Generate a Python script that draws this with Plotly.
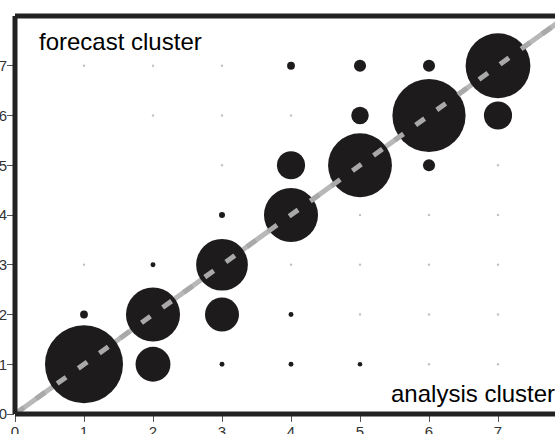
import math
import plotly.graph_objects as go

# analysis cluster (x) and forecast cluster (y)
analysis_clusters = [1, 2, 3, 4, 5, 6, 7]
forecast_clusters = [1, 2, 3, 4, 5, 6, 7]

# relative frequency of (analysis, forecast) pairs; rows = forecast cluster 1..7
# None = no mark drawn
freq = [
    [100, 20, 0.4, 0.4, 0.35, 0.1, 0.1],    # forecast 1
    [1, 48, 19, 0.4, 0.1, 0.1, 0.1],        # forecast 2
    [0.1, 0.4, 44, 0.1, 0.1, 0.1, 0.1],     # forecast 3
    [None, None, 0.6, 48, 0.1, 0.1, 0.1],   # forecast 4
    [None, None, 0.1, 13, 67, 2.4, 0.1],    # forecast 5
    [None, 0.1, 0.1, 0.1, 5, 88, 13],       # forecast 6
    [0.1, 0.1, 0.1, 1, 2.4, 2.4, 69],       # forecast 7
]

tick_vals = [0, 1, 2, 3, 4, 5, 6, 7]
diag = [0, 8]

xs, ys, sizes, colors = [], [], [], []
for j, fc in enumerate(forecast_clusters):
    for i, ac in enumerate(analysis_clusters):
        v = freq[j][i]
        if v is None:
            continue
        xs.append(ac)
        ys.append(fc)
        sizes.append(7.8 * math.sqrt(v))
        colors.append("#1d1b1b" if v >= 0.3 else "#c4c4c4")

fig = go.Figure()
fig.add_trace(go.Scatter(x=diag, y=diag, mode="lines",
                         line=dict(color="#b8b8b8", width=5), hoverinfo="skip"))
fig.add_trace(go.Scatter(x=xs, y=ys, mode="markers",
                         marker=dict(size=sizes, sizemode="diameter", color=colors,
                                     line=dict(width=0), opacity=1)))
fig.add_trace(go.Scatter(x=diag, y=diag, mode="lines",
                         line=dict(color="#a9a9a9", width=5, dash="11px,15px"),
                         hoverinfo="skip"))

L, T, B = 15, 16, 20
W, H = 555, 434
pw = W - L
xmax = pw / 69.0

fig.update_layout(
    width=W, height=H,
    margin=dict(l=L, r=0, t=T, b=B, autoexpand=False),
    paper_bgcolor="white", plot_bgcolor="white",
    showlegend=False,
    font=dict(family="Liberation Sans, Arial, sans-serif", color="#333333", size=15),
    xaxis=dict(range=[0, xmax], tickvals=tick_vals, ticks="outside", ticklen=7,
               tickwidth=1, tickcolor="#555", showgrid=False, zeroline=False,
               showline=False, automargin=False, ticklabelstandoff=-3),
    yaxis=dict(range=[0, 8], tickvals=tick_vals, ticks="outside", ticklen=7,
               tickwidth=1, tickcolor="#555", showgrid=False, zeroline=False,
               showline=False, automargin=False, ticklabelstandoff=-3),
    shapes=[
        dict(type="line", xref="paper", yref="paper", x0=0, x1=0, y0=0, y1=1,
             line=dict(color="#222", width=5), layer="above"),
        dict(type="line", xref="paper", yref="paper", x0=0, x1=1, y0=1, y1=1,
             line=dict(color="#222", width=5), layer="above"),
        dict(type="line", xref="paper", yref="paper", x0=0, x1=1, y0=0, y1=0,
             line=dict(color="#222", width=5), layer="above"),
    ],
    annotations=[
        dict(text="forecast cluster", xref="paper", yref="paper",
             x=(37 - L) / pw, y=(414 - 41) / 398.0, xanchor="left", yanchor="middle",
             showarrow=False, font=dict(size=24, color="black")),
        dict(text="analysis cluster", xref="paper", yref="paper",
             x=(557 - L) / pw, y=(414 - 393) / 398.0, xanchor="right", yanchor="middle",
             showarrow=False, font=dict(size=24, color="black")),
    ],
)

fig.write_html("out.html")
